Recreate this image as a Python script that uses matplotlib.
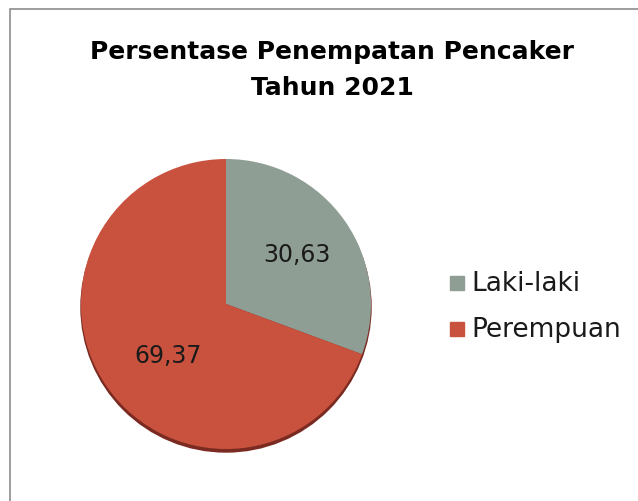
import matplotlib.pyplot as plt
from matplotlib.patches import Rectangle, Circle

plt.rcParams['font.family'] = ['DejaVu Sans']

# data
categories = ['Laki-laki', 'Perempuan']
values = [30.63, 69.37]
colors = ['#8f9e94', '#c9523f']

fig = plt.figure(figsize=(6.38, 5.02), dpi=100)
ax = fig.add_axes([0, 0, 1, 1])
ax.set_xlim(0, 638)
ax.set_ylim(0, 502)
ax.set_aspect('equal')
ax.axis('off')

# chart border (runs off the right and bottom edges)
ax.add_patch(Rectangle((10, -20), 700, 512, fill=False, edgecolor='#8c8c8c', lw=1.2))

cx, cy, r = 226, 197, 145

# shadow under the pie
ax.add_patch(Circle((cx, cy - 3), r, color='#7a2a20', zorder=1))

wedges, texts, autotexts = ax.pie(
    values, colors=colors, startangle=90, counterclock=False,
    center=(cx, cy), radius=r, frame=True,
    autopct=lambda p: f'{p:.2f}'.replace('.', ','), pctdistance=0.6,
    textprops={'fontsize': 17, 'color': '#1a1a1a'},
    wedgeprops={'zorder': 2})
for t in autotexts:
    t.set_zorder(3)
autotexts[0].set_position((297, 502 - 255))
autotexts[1].set_position((168, 502 - 356))

ax.set_xlim(0, 638)
ax.set_ylim(0, 502)
ax.axis('off')

fig.text(332 / 638, 1 - 52 / 502, 'Persentase Penempatan Pencaker', ha='center', va='center',
         fontsize=18, fontweight='bold')
fig.text(332 / 638, 1 - 88 / 502, 'Tahun 2021', ha='center', va='center',
         fontsize=18, fontweight='bold')

# legend
for i, (name, c) in enumerate(zip(categories, colors)):
    y = 502 - (284 + i * 46)
    ax.add_patch(Rectangle((450, y - 7), 14, 14, color=c))
    ax.text(471, y, name, va='center', ha='left', fontsize=19, color='#1a1a1a')

fig.savefig('out.png', dpi=100)
